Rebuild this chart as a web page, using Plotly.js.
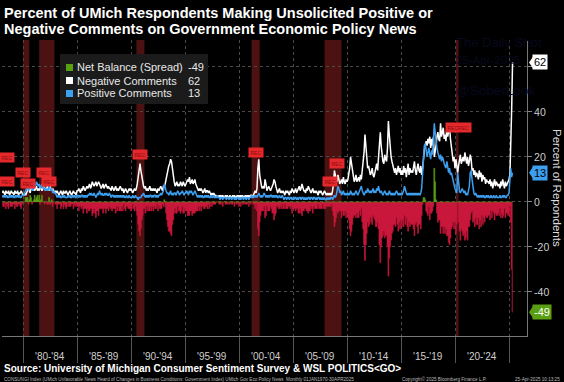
<!DOCTYPE html>
<html><head><meta charset="utf-8">
<script src="https://cdn.plot.ly/plotly-3.0.1.min.js"></script>
<style>html,body{margin:0;padding:0;background:#000;}#chart{width:564px;height:382px;}</style>
</head><body><div id="chart"></div>
<script>
// Monthly data, Jan 1978 .. Apr 2025 (percent of respondents)
const startYear = 1978;
const negativeComments = [
4,5,4,3,5,4,4,5,3,4,5,4,
4,3,5,4,4,5,3,4,4,5,4,3,
3,4,3,4,5,6,5,4,6,7,5,6,
5,6,7,5,6,5,7,6,5,6,7,6,
6,5,7,6,5,7,6,5,6,5,4,5,
4,5,4,3,4,5,4,3,5,4,4,5,
4,3,4,5,4,3,4,5,4,4,3,5,
5,6,5,4,6,5,7,6,5,6,7,6,
7,8,6,7,9,8,7,8,9,7,8,9,
8,7,6,7,8,6,7,8,7,6,7,6,
6,5,7,6,5,6,7,5,6,5,6,7,
6,5,6,4,5,6,5,4,5,6,5,6,
5,4,5,6,5,6,8,11,15,17,14,11,
9,7,6,7,5,6,5,6,7,5,6,5,
6,5,6,5,4,6,5,6,7,6,5,7,
7,8,10,12,15,16,17,19,18,14,11,9,
7,8,9,7,8,7,9,8,7,9,8,7,
8,9,10,9,11,8,9,10,8,9,10,8,
7,6,5,6,5,6,5,4,5,6,4,5,
5,4,5,4,3,4,3,4,3,3,2,3,
2,3,2,3,2,3,2,2,3,2,3,2,
2,3,2,2,3,2,3,2,2,3,2,3,
2,3,2,3,2,2,3,2,3,2,3,2,
3,3,2,3,4,5,4,6,15,19,12,8,
7,6,7,6,10,8,5,6,7,6,5,6,
7,8,10,9,7,5,4,5,6,4,5,4,
5,4,3,5,4,5,4,3,5,4,6,5,
4,5,6,4,5,6,7,5,6,8,6,5,
5,4,6,5,7,6,5,4,5,6,4,5,
4,5,4,3,5,4,5,4,3,4,5,4,
3,4,3,4,3,4,3,5,8,14,11,10,
9,12,10,8,9,10,8,11,9,8,10,9,
10,12,15,20,17,13,11,9,10,12,9,10,
11,9,12,10,14,16,22,30,24,18,15,16,
14,12,13,15,12,11,13,15,17,14,19,24,
31,25,20,18,17,21,19,18,24,36,30,24,
20,18,16,14,13,15,12,14,16,13,15,12,
14,12,16,13,15,11,14,17,12,15,13,14,
13,16,18,14,12,15,17,14,13,16,12,15,
20,23,25,27,25,28,26,29,24,28,25,29,
20,22,25,29,31,28,27,35,29,31,33,28,
30,27,33,29,31,34,28,25,22,18,20,15,
19,14,13,16,18,21,17,19,20,18,22,19,
17,20,16,18,21,19,14,15,12,14,11,13,
12,10,14,11,13,9,12,10,11,8,10,9,
9,8,10,7,9,6,8,10,7,9,8,7,
8,6,9,7,10,8,6,9,7,8,9,10,
12,24,41,62];
const positiveComments = [
2,3,2,3,2,3,2,2,3,2,3,2,
3,2,2,3,2,3,2,3,2,2,3,3,
3,4,5,6,7,5,6,7,8,6,5,7,
8,7,9,8,7,8,6,7,8,6,7,5,
6,5,6,5,7,6,5,6,4,5,4,4,
3,2,3,2,3,2,2,3,2,3,2,2,
2,3,2,3,2,2,3,2,3,2,2,3,
3,2,3,2,3,3,2,3,2,3,2,3,
3,4,3,4,3,3,4,3,2,3,4,3,
5,4,3,4,3,3,4,3,4,3,3,4,
3,2,3,3,2,3,2,3,2,3,2,3,
2,3,2,3,2,2,3,2,2,3,2,2,
2,3,2,2,3,2,2,1,2,2,2,3,
3,4,3,2,3,2,3,2,3,3,2,3,
2,3,3,2,3,2,3,3,4,3,4,5,
8,6,5,4,4,3,4,5,3,4,3,4,
4,3,4,5,4,3,4,4,5,4,3,4,
4,5,4,3,5,4,5,4,3,4,5,4,
3,2,3,2,3,2,3,2,2,3,2,3,
2,3,2,2,3,2,2,3,2,2,2,3,
2,2,1,2,2,1,2,2,2,1,2,2,
1,2,2,1,2,2,1,2,1,2,2,1,
2,1,2,2,1,2,2,1,2,2,1,2,
2,3,2,2,3,2,3,2,3,4,3,2,
3,2,3,4,3,2,3,2,3,2,3,3,
2,3,2,3,2,3,2,2,3,2,2,3,
2,1,2,2,1,2,2,1,2,2,1,2,
1,2,2,1,2,1,2,2,1,2,2,1,
2,1,2,1,2,2,1,2,2,1,2,2,
1,2,1,2,2,1,2,1,2,1,2,1,
1,2,1,2,1,2,2,1,2,3,2,3,
5,7,6,4,5,3,4,5,3,4,3,4,
3,4,3,5,4,3,4,3,4,5,4,3,
4,5,6,7,5,4,3,4,5,4,6,5,
4,5,4,5,6,4,5,4,6,5,7,5,
4,5,4,3,4,5,4,3,4,3,5,4,
3,4,3,4,3,4,5,4,3,4,3,4,
3,4,5,7,5,4,3,4,3,4,3,4,
3,4,3,4,3,4,3,4,3,4,6,14,
22,25,26,23,20,22,24,21,19,23,21,27,
35,31,26,24,22,20,19,21,18,20,19,17,
16,15,18,14,13,15,12,13,11,9,8,6,
5,4,13,7,5,4,5,6,5,4,5,3,
4,3,5,7,13,14,10,6,4,3,4,3,
2,3,2,3,2,3,2,3,2,2,3,2,
3,2,2,3,2,2,3,2,2,3,2,2,
2,3,2,2,3,2,3,2,2,3,3,4,
10,15,11,13];

const recessionStarts = ['1980-01-01','1981-07-01','1990-07-01','2001-03-01','2007-12-01','2020-02-01'];
const recessionEnds   = ['1980-07-31','1982-11-30','1991-03-31','2001-11-30','2009-06-30','2020-04-30'];
const tickDates = ['1980-01-01','1985-01-01','1990-01-01','1995-01-01','2000-01-01','2005-01-01','2010-01-01','2015-01-01','2020-01-01','2025-01-01'];
const periodMids = ['1982-07-02','1987-07-02','1992-07-02','1997-07-02','2002-07-02','2007-07-02','2012-07-02','2017-07-02','2022-07-02'];
const periodLabels = ["'80-'84","'85-'89","'90-'94","'95-'99","'00-'04","'05-'09","'10-'14","'15-'19","'20-'24"];
const yTickVals = [-40, -20, 0, 20, 40, 60];
const yTickText = ['-40', '-20', '0', '20', '40', ''];
const recBadgeDates = ['1978-07-08','1978-07-08','1980-01-01','1980-06-17','1981-12-10','1982-05-30','1990-10-30','2001-07-27','2008-06-05','2009-01-26','2020-04-12'];
const recBadgeVals  = [19.6,8.9,12.9,8.4,12.9,8.9,20.9,22.2,8.9,16.9,33.3];
const recBadgeText  = ['REC','REC','REC','REC','REC','REC','REC','REC','REC','REC','RECREC'];

// month-end dates
const dates = negativeComments.map((_, i) => {
  const y = startYear + Math.floor(i / 12), m = i % 12;
  const d = new Date(Date.UTC(y, m + 1, 0));
  return d.toISOString().slice(0, 10);
});
const netBalance = negativeComments.map((n, i) => positiveComments[i] - n);
const lastNeg = negativeComments[negativeComments.length - 1];
const lastPos = positiveComments[positiveComments.length - 1];
const lastNet = netBalance[netBalance.length - 1];

const C_NEG = '#ffffff', C_POS = '#3d9ff0', C_RED = '#c8173a', C_GREEN = '#5a9e12';
const FONT = 'Liberation Sans, Arial, sans-serif';

const traces = [
  {x: dates, y: netBalance.map(v => Math.min(v, 0)), type: 'scatter', mode: 'lines', name: 'Net Balance (Spread)',
   line: {color: C_RED, width: 0.6, shape: 'hvh'}, fill: 'tozeroy', fillcolor: C_RED,
   hoverinfo: 'skip', showlegend: false},
  {x: dates, y: netBalance.map(v => Math.max(v, 0)), type: 'scatter', mode: 'lines', name: 'Net Balance (Spread) +',
   line: {color: C_GREEN, width: 0.6, shape: 'hvh'}, fill: 'tozeroy', fillcolor: C_GREEN,
   hoverinfo: 'skip', showlegend: false},
  {x: dates, y: negativeComments, type: 'scatter', mode: 'lines', name: 'Negative Comments',
   line: {color: C_NEG, width: 1.5}, showlegend: false},
  {x: dates, y: positiveComments, type: 'scatter', mode: 'lines', name: 'Positive Comments',
   line: {color: C_POS, width: 1.5}, showlegend: false}
];

const shapes = recessionStarts.map((s, i) => ({
  type: 'rect', xref: 'x', yref: 'paper', x0: s, x1: recessionEnds[i], y0: 0, y1: 1,
  fillcolor: 'rgba(105,24,24,0.72)', line: {width: 0}, layer: 'below'
}));
// legend box and swatches
const px2x = p => (p - 2) / 525, py2y = p => (336 - p) / 296;
shapes.push({type: 'rect', xref: 'paper', yref: 'paper', x0: px2x(60), x1: px2x(208), y0: py2y(104), y1: py2y(54),
  fillcolor: '#1b1b1b', line: {width: 0}, layer: 'above'});
const legRows = [
  {name: 'Net Balance (Spread)', val: String(lastNet), color: C_GREEN, py: 67.5},
  {name: 'Negative Comments', val: String(lastNeg), color: C_NEG, py: 80.5},
  {name: 'Positive Comments', val: String(lastPos), color: C_POS, py: 93.5}
];
legRows.forEach(r => shapes.push({type: 'rect', xref: 'paper', yref: 'paper',
  x0: px2x(66), x1: px2x(73), y0: py2y(r.py + 3.5), y1: py2y(r.py - 3.5), fillcolor: r.color, line: {width: 0}}));

const annotations = [];
// title
annotations.push({xref: 'paper', yref: 'paper', x: 0, y: 1, xanchor: 'left', yanchor: 'middle', xshift: 0, yshift: 27,
  text: '<b>Percent of UMich Respondents Making Unsolicited Positive or</b>', showarrow: false,
  font: {family: FONT, size: 14.5, color: '#ffffff'}});
annotations.push({xref: 'paper', yref: 'paper', x: 0, y: 1, xanchor: 'left', yanchor: 'middle', xshift: 0, yshift: 11,
  text: '<b>Negative Comments on Government Economic Policy News</b>', showarrow: false,
  font: {family: FONT, size: 14.5, color: '#ffffff'}});
// watermark (very faint)
[['The Daily Shot', 42, 13], ['25-Apr-2025', 60, 11.5], ['@SoberLook', 90, 13.5]].forEach(w => annotations.push({
  xref: 'paper', yref: 'paper', x: px2x(454), y: py2y(w[1]), xanchor: 'left', yanchor: 'middle', showarrow: false,
  text: w[0], font: {family: FONT, size: w[2], color: '#08081e'}}));
// legend text
legRows.forEach(r => {
  annotations.push({xref: 'paper', yref: 'paper', x: px2x(75), y: py2y(r.py), xanchor: 'left', yanchor: 'middle',
    showarrow: false, text: r.name, font: {family: FONT, size: 11, color: '#e8e8e8'}});
  annotations.push({xref: 'paper', yref: 'paper', x: px2x(186), y: py2y(r.py), xanchor: 'left', yanchor: 'middle',
    showarrow: false, text: r.val, font: {family: FONT, size: 11, color: '#e8e8e8'}});
});
// x period labels
periodMids.forEach((d, i) => annotations.push({xref: 'x', yref: 'paper', x: d, y: 0, xanchor: 'center', yanchor: 'top',
  yshift: -13, showarrow: false, text: periodLabels[i], font: {family: FONT, size: 10, color: '#cfcfcf'}}));
// REC badges
recBadgeDates.forEach((d, i) => annotations.push({xref: 'x', yref: 'y', x: d, y: recBadgeVals[i], showarrow: false,
  text: recBadgeText[i], bgcolor: '#e5282c', borderpad: 1.5, font: {family: FONT, size: 5, color: '#8a0c0c'}}));
// right side value tags with pointers
const tags = [[lastNeg, '#ffffff', '#000000'], [lastPos, C_POS, '#000000'], [lastNet, C_GREEN, '#ffffff']];
tags.forEach(t => {
  annotations.push({xref: 'paper', yref: 'y', x: 1, y: t[0], xanchor: 'left', yanchor: 'middle', xshift: 5, showarrow: false,
    text: String(t[0]), bgcolor: t[1], borderpad: 1, font: {family: FONT, size: 11, color: t[2]}});
  const dy = 2.6;
  shapes.push({type: 'path', xref: 'paper', yref: 'y', fillcolor: t[1], line: {width: 0},
    path: `M ${px2x(529)} ${t[0]} L ${px2x(533)} ${t[0] + dy} L ${px2x(533)} ${t[0] - dy} Z`});
});
// y title (reads top to bottom)
annotations.push({xref: 'paper', yref: 'paper', x: 1, y: 0.5, xanchor: 'center', yanchor: 'middle', xshift: 30,
  textangle: 90, showarrow: false, text: 'Percent of Repondents', font: {family: FONT, size: 11.5, color: '#dddddd'}});
// source & footer
annotations.push({xref: 'paper', yref: 'paper', x: 0, y: 0, xanchor: 'left', yanchor: 'middle', xshift: 0, yshift: -32,
  showarrow: false, text: '<b>Source: University of Michigan Consumer Sentiment Survey &amp; WSL POLITICS&lt;GO&gt;</b>',
  font: {family: FONT, size: 10, color: '#ffffff'}});
annotations.push({xref: 'paper', yref: 'paper', x: 0, y: 0, xanchor: 'left', yanchor: 'middle', yshift: -43, showarrow: false,
  text: 'CONSUNGI Index (UMich Unfavorable News Heard of Changes in Business Conditions: Government Index) UMich Gov Eco Policy News  Monthly 01JAN1970-30APR2025',
  font: {family: FONT, size: 4.6, color: '#bbbbbb'}});
annotations.push({xref: 'paper', yref: 'paper', x: px2x(400), y: 0, xanchor: 'left', yanchor: 'middle', yshift: -43, showarrow: false,
  text: 'Copyright© 2025 Bloomberg Finance L.P.', font: {family: FONT, size: 4.6, color: '#bbbbbb'}});
annotations.push({xref: 'paper', yref: 'paper', x: px2x(562), y: 0, xanchor: 'right', yanchor: 'middle', yshift: -43, showarrow: false,
  text: '25-Apr-2025 10:13:25', font: {family: FONT, size: 4.6, color: '#bbbbbb'}});

const layout = {
  width: 564, height: 382,
  margin: {l: 2, r: 37, t: 40, b: 46, pad: 0},
  paper_bgcolor: '#000000', plot_bgcolor: '#000000',
  showlegend: false,
  font: {family: FONT, color: '#cccccc'},
  xaxis: {type: 'date', range: ['1978-01-20', '2026-09-01'], tickmode: 'array', tickvals: tickDates,
    ticktext: tickDates.map(() => ''), ticks: 'outside', ticklen: 26, tickcolor: '#555555', tickwidth: 1,
    showgrid: true, gridcolor: '#4a4a4a', griddash: 'dot', gridwidth: 1,
    showline: true, linecolor: '#777777', linewidth: 1, zeroline: false, fixedrange: true},
  yaxis: {side: 'right', range: [-59.6, 72], tickmode: 'array', tickvals: yTickVals, ticktext: yTickText,
    ticks: 'outside', ticklen: 4, tickcolor: '#888888', showline: true, linecolor: '#777777', linewidth: 1,
    showgrid: true, gridcolor: '#4a4a4a', griddash: 'dot', zeroline: false,
    tickfont: {family: FONT, size: 10.5, color: '#cccccc'}, fixedrange: true},
  shapes: shapes, annotations: annotations
};
Plotly.newPlot('chart', traces, layout, {staticPlot: true, displayModeBar: false});
</script></body></html>
